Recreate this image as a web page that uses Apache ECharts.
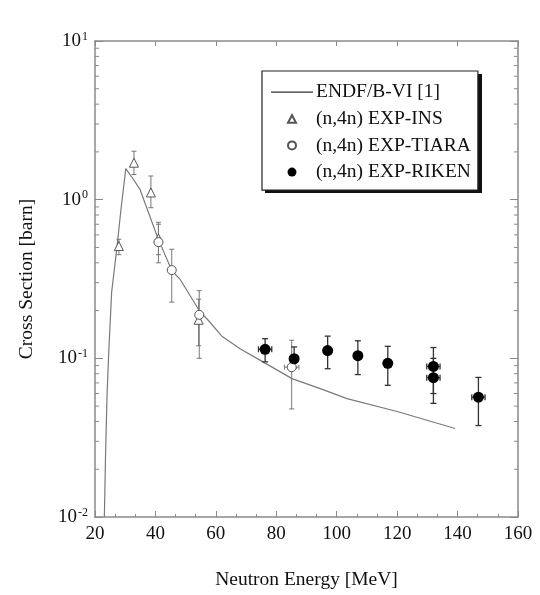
<!DOCTYPE html>
<html><head><meta charset="utf-8">
<script src="https://cdn.jsdelivr.net/npm/echarts@6/dist/echarts.min.js"></script>
<style>html,body{margin:0;padding:0;background:#fff}#c{width:540px;height:595px}</style>
</head><body><div id="c"></div>
<script>
// ENDF/B-VI evaluated curve
const endfE = [23.1, 23.5, 24.0, 24.6, 25.5, 27.2, 28.6, 30.2, 32.5, 34.9, 38.0, 41.0, 45.5, 48.1, 54.8, 57.1, 62.0, 68.0, 75.6, 85.2, 95.0, 103.4, 120.0, 139.2];
const endfXS = [0.01, 0.025, 0.06, 0.115, 0.26, 0.49, 0.87, 1.57, 1.36, 1.16, 0.80, 0.56, 0.355, 0.316, 0.196, 0.177, 0.138, 0.115, 0.095, 0.0745, 0.064, 0.0557, 0.0462, 0.0361];
// (n,4n) EXP-INS
const insE = [27.9, 32.9, 38.5, 41.0, 54.3];
const insXS = [0.51, 1.71, 1.11, 0.57, 0.175];
const insLo = [0.45, 1.44, 0.89, 0.45, 0.12];
const insHi = [0.563, 2.02, 1.41, 0.72, 0.236];
// (n,4n) EXP-TIARA
const tiaraE = [41.0, 45.4, 54.5, 85.1];
const tiaraXS = [0.54, 0.36, 0.188, 0.088];
const tiaraLo = [0.40, 0.226, 0.10, 0.048];
const tiaraHi = [0.70, 0.487, 0.267, 0.13];
const tiaraEErr = [0, 0, 0, 2.4];
// (n,4n) EXP-RIKEN
const rikenE = [76.3, 85.9, 97.0, 107.0, 116.9, 132.0, 132.0, 146.9];
const rikenXS = [0.114, 0.0994, 0.112, 0.104, 0.093, 0.0889, 0.0755, 0.0569];
const rikenLo = [0.095, 0.087, 0.086, 0.079, 0.0676, 0.06, 0.052, 0.0377];
const rikenHi = [0.133, 0.118, 0.138, 0.129, 0.119, 0.117, 0.10, 0.0758];
const rikenEErr = [2.2, 0, 0, 0, 0, 2.2, 2.2, 2.2];
// axis
const xMin = 20, xMax = 160, xStep = 20;
const yMin = 0.01, yMax = 10;
const minorY = [0.02,0.03,0.04,0.05,0.06,0.07,0.08,0.09,0.2,0.3,0.4,0.5,0.6,0.7,0.8,0.9,2,3,4,5,6,7,8,9];
const names = ['ENDF/B-VI [1]', '(n,4n) EXP-INS', '(n,4n) EXP-TIARA', '(n,4n) EXP-RIKEN'];

const FONT = '"Liberation Serif", "DejaVu Serif", serif';

function zip(a, b) { return a.map((v, i) => [v, b[i]]); }
function errData(e, v, lo, hi, ee) { return e.map((x, i) => [x, v[i], lo[i], hi[i], ee ? ee[i] : 0]); }

function errRender(color, width, cap) {
  return function (params, api) {
    const x = api.value(0), lo = api.value(2), hi = api.value(3), ex = api.value(4), y = api.value(1);
    const pLo = api.coord([x, lo]), pHi = api.coord([x, hi]), pc = api.coord([x, y]);
    const st = { stroke: color, lineWidth: width, fill: null };
    const ch = [
      { type: 'line', shape: { x1: pLo[0], y1: pLo[1], x2: pHi[0], y2: pHi[1] }, style: st },
      { type: 'line', shape: { x1: pLo[0] - cap, y1: pLo[1], x2: pLo[0] + cap, y2: pLo[1] }, style: st },
      { type: 'line', shape: { x1: pHi[0] - cap, y1: pHi[1], x2: pHi[0] + cap, y2: pHi[1] }, style: st }
    ];
    if (ex > 0) {
      const pL = api.coord([x - ex, y]), pR = api.coord([x + ex, y]);
      ch.push({ type: 'line', shape: { x1: pL[0], y1: pc[1], x2: pR[0], y2: pc[1] }, style: st });
      ch.push({ type: 'line', shape: { x1: pL[0], y1: pc[1] - cap, x2: pL[0], y2: pc[1] + cap }, style: st });
      ch.push({ type: 'line', shape: { x1: pR[0], y1: pc[1] - cap, x2: pR[0], y2: pc[1] + cap }, style: st });
    }
    return { type: 'group', children: ch };
  };
}

const chart = echarts.init(document.getElementById('c'), null, { renderer: 'canvas' });
const axisLine = { show: true, lineStyle: { color: '#8a8a8a', width: 1.5 } };
const tickStyle = { color: '#8a8a8a', width: 1 };
function yLabel(v) {
  const e = Math.round(Math.log10(v));
  return '{b|10}{s|' + (e < 0 ? '-' + (-e) : e) + '}';
}
// legend icons: invisible moveTo corners keep a 42x9 box so marks stay centred
const iconLine = 'path://M0,0M42,9M0,4L42,4L42,5.2L0,5.2Z';
const iconTri = 'path://M0,0M42,9M17,8.5L21,1L25,8.5Z';
const iconCirc = 'path://M0,0M42,9M25,4.5A4,4,0,1,1,17,4.5A4,4,0,1,1,25,4.5Z';
const iconDot = 'path://M0,0M42,9M25.5,4.5A4.5,4.5,0,1,1,16.5,4.5A4.5,4.5,0,1,1,25.5,4.5Z';

chart.setOption({
  animation: false,
  backgroundColor: '#fff',
  textStyle: { fontFamily: FONT },
  grid: { left: 95, right: 22, top: 41, bottom: 76, containLabel: false },
  graphic: [{
    type: 'rect', left: 265, top: 74, z: 0, zlevel: 0,
    shape: { width: 217, height: 119 },
    style: { fill: '#111' }
  }],
  legend: {
    data: [
      { name: names[0], icon: iconLine },
      { name: names[1], icon: iconTri },
      { name: names[2], icon: iconCirc },
      { name: names[3], icon: iconDot }
    ],
    orient: 'vertical',
    left: 262, top: 71,
    itemWidth: 42, itemHeight: 9, itemGap: 6.7,
    padding: [11, 7, 8, 8],
    backgroundColor: '#fff',
    borderColor: '#222', borderWidth: 1.2,
    textStyle: { fontFamily: FONT, fontSize: 19.5, color: '#111', padding: [0, 0, 0, -2] },
    selectedMode: false
  },
  xAxis: [{
    type: 'value', min: xMin, max: xMax, interval: xStep,
    name: 'Neutron Energy [MeV]', nameLocation: 'middle', nameGap: 53,
    nameTextStyle: { fontFamily: FONT, fontSize: 19.5, color: '#111' },
    axisLine: axisLine,
    axisTick: { inside: true, length: 6, lineStyle: tickStyle },
    minorTick: { show: true, splitNumber: 3, length: 3, lineStyle: tickStyle },
    axisLabel: { fontFamily: FONT, fontSize: 19, color: '#111', margin: 8 },
    splitLine: { show: false }
  }, {
    type: 'value', min: xMin, max: xMax, interval: xStep, position: 'top',
    axisLine: axisLine,
    axisTick: { inside: true, length: 5, lineStyle: tickStyle },
    axisLabel: { show: false }, splitLine: { show: false }
  }],
  yAxis: [{
    type: 'log', logBase: 10, min: yMin, max: yMax,
    name: 'Cross Section [barn]', nameLocation: 'middle', nameGap: 58, nameRotate: 90,
    nameTextStyle: { fontFamily: FONT, fontSize: 19.5, color: '#111' },
    axisLine: axisLine,
    axisTick: { inside: true, length: 8, lineStyle: tickStyle },
    axisLabel: {
      formatter: yLabel, margin: 7,
      rich: {
        b: { fontFamily: FONT, fontSize: 19, color: '#111' },
        s: { fontFamily: FONT, fontSize: 12, color: '#111', padding: [0, 0, 9, 1] }
      }
    },
    splitLine: { show: false }
  }, {
    type: 'log', logBase: 10, min: yMin, max: yMax, position: 'right',
    axisLine: axisLine,
    axisTick: { inside: true, length: 8, lineStyle: tickStyle },
    axisLabel: { show: false }, splitLine: { show: false }
  }],
  series: [
    {
      type: 'custom', name: 'minorTicks', silent: true, z: 1,
      data: minorY.map(v => [xMin, v]),
      renderItem: function (params, api) {
        const v = api.value(1);
        const pl = api.coord([xMin, v]), pr = api.coord([xMax, v]);
        const st = { stroke: '#8a8a8a', lineWidth: 1 };
        return { type: 'group', children: [
          { type: 'line', shape: { x1: pl[0], y1: pl[1], x2: pl[0] + 4, y2: pl[1] }, style: st },
          { type: 'line', shape: { x1: pr[0], y1: pr[1], x2: pr[0] - 4, y2: pr[1] }, style: st }
        ] };
      }
    },
    {
      type: 'line', name: names[0], data: zip(endfE, endfXS),
      symbol: 'none', smooth: false, z: 2,
      lineStyle: { color: '#7a7a7a', width: 1.2 },
      itemStyle: { color: '#333' }
    },
    {
      type: 'custom', name: 'insErr', silent: true, z: 3,
      data: errData(insE, insXS, insLo, insHi, null),
      renderItem: errRender('#777', 1, 2.5)
    },
    {
      type: 'custom', name: 'tiaraErr', silent: true, z: 3,
      data: errData(tiaraE, tiaraXS, tiaraLo, tiaraHi, tiaraEErr),
      renderItem: errRender('#777', 1, 2.5)
    },
    {
      type: 'custom', name: 'rikenErr', silent: true, z: 3,
      data: errData(rikenE, rikenXS, rikenLo, rikenHi, rikenEErr),
      renderItem: errRender('#333', 1.3, 3)
    },
    {
      type: 'scatter', name: names[1], data: zip(insE, insXS), z: 4,
      symbol: 'triangle', symbolSize: 9,
      itemStyle: { color: '#fff', borderColor: '#555', borderWidth: 1, opacity: 1 }
    },
    {
      type: 'scatter', name: names[2], data: zip(tiaraE, tiaraXS), z: 4,
      symbol: 'circle', symbolSize: 9,
      itemStyle: { color: '#fff', borderColor: '#555', borderWidth: 1, opacity: 1 }
    },
    {
      type: 'scatter', name: names[3], data: zip(rikenE, rikenXS), z: 5,
      symbol: 'circle', symbolSize: 11,
      itemStyle: { color: '#000', opacity: 1 }
    }
  ]
});
</script></body></html>
